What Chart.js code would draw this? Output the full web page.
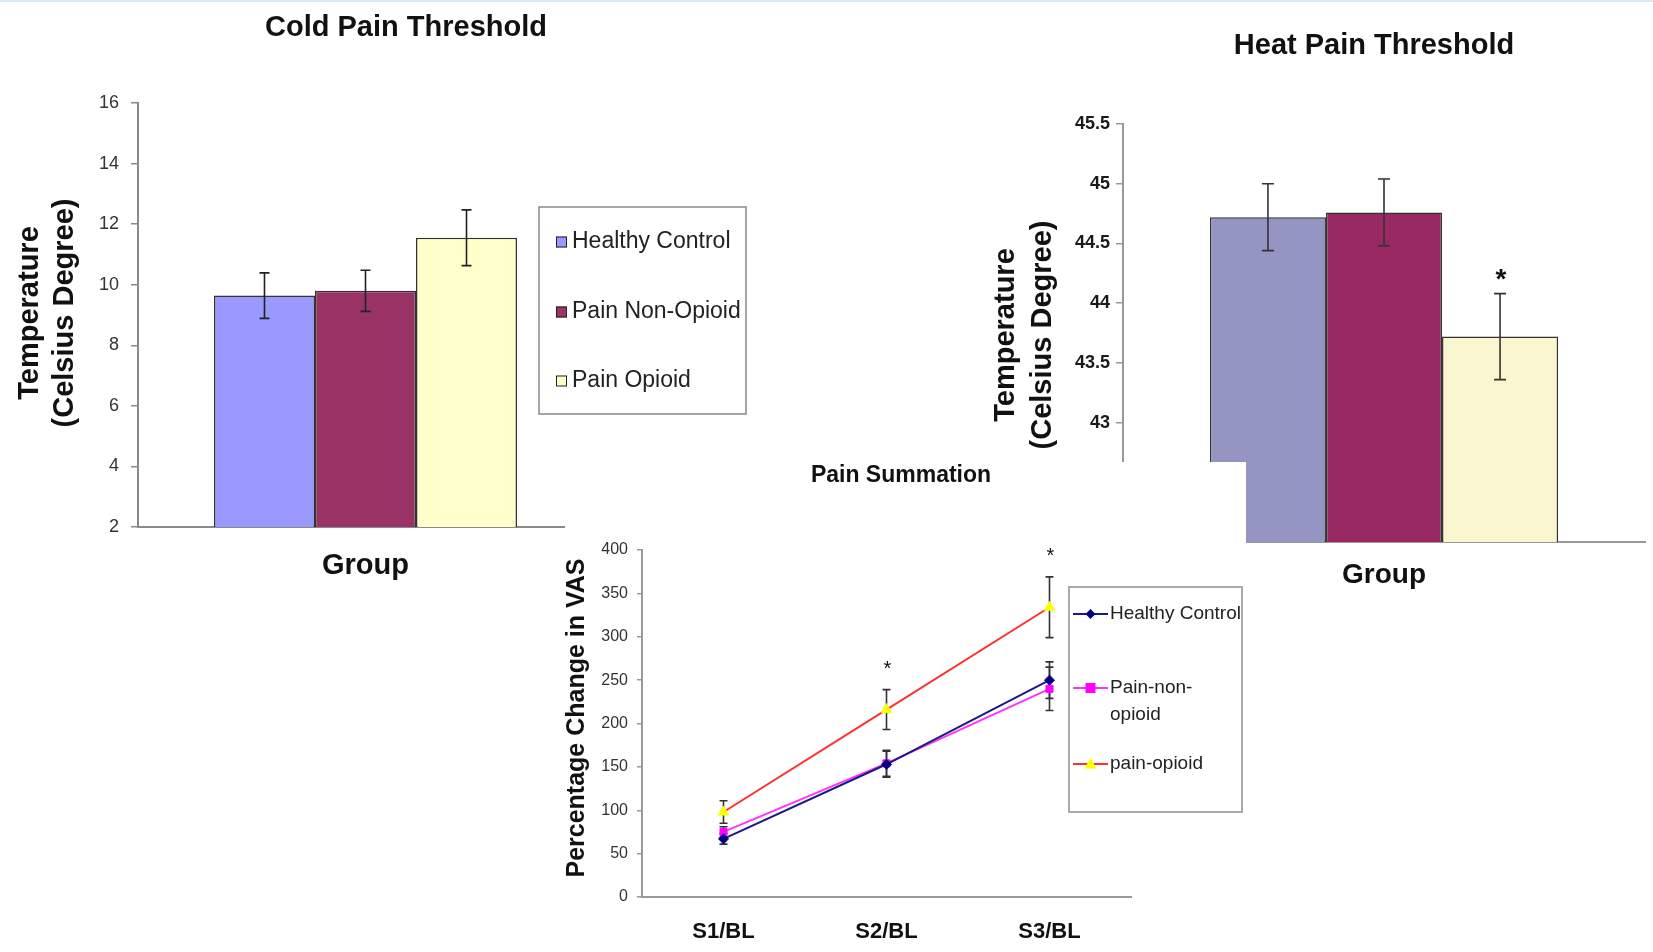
<!DOCTYPE html>
<html>
<head>
<meta charset="utf-8">
<title>Pain thresholds and pain summation</title>
<script src="https://cdn.jsdelivr.net/npm/chart.js@4.4.1/dist/chart.umd.min.js"></script>
<style>
  html, body { margin: 0; padding: 0; background: #fff; }
  body { width: 1653px; height: 952px; position: relative; overflow: hidden; }
  canvas { display: block; }
  .layer { position: absolute; left: 0; top: 0; }
  #sumPanel { position: absolute; left: 565px; top: 462px; width: 681px; height: 490px; background: #fff; }
  #topRule { position: absolute; left: 0; top: 0; width: 1653px; height: 2px; background: #d6ecf8; }
</style>
</head>
<body>
<canvas id="cold" class="layer" width="1653" height="952"></canvas>
<canvas id="heat" class="layer" width="1653" height="952"></canvas>
<div id="sumPanel"><canvas id="sum" width="681" height="490"></canvas></div>
<div id="topRule"></div>
<script>
// ---- data ----
const groupLabels = ['Group'];
const groupNames = ['Healthy Control', 'Pain Non-Opioid', 'Pain Opioid'];

const coldMeans = [9.64, 9.8, 11.55];
const coldErrors = [0.75, 0.68, 0.92];
const coldTickValues = [2, 4, 6, 8, 10, 12, 14, 16];

const heatMeans = [44.72, 44.76, 43.72];
const heatErrors = [0.28, 0.28, 0.36];
const heatStars = ['', '', '*'];
const heatTickValues = [42, 42.5, 43, 43.5, 44, 44.5, 45, 45.5];

const sessions = ['S1/BL', 'S2/BL', 'S3/BL'];
const summationNames = [['Healthy Control'], ['Pain-non-', 'opioid'], ['pain-opioid']];
const healthyVas = [67, 153, 250];
const healthyVasErr = [6, 15, 21];
const nonOpioidVas = [75, 154, 240];
const nonOpioidVasErr = [6, 15, 25];
const opioidVas = [98, 216, 334];
const opioidVasErr = [13, 23, 35];
const opioidStars = ['', '*', '*'];
const vasTickValues = [0, 50, 100, 150, 200, 250, 300, 350, 400];

const coldTitle = 'Cold Pain Threshold';
const heatTitle = 'Heat Pain Threshold';
const sumTitle = 'Pain Summation';
const tempTitle = ['Temperature', '(Celsius Degree)'];
const vasTitle = 'Percentage Change in VAS';

// ---- fonts ----
const SANS = '"Liberation Sans", Arial, Helvetica, sans-serif';
const NARROW = '"Liberation Sans Narrow", "Liberation Sans", Arial, sans-serif';

// ---- plugins ----
// Error bars (and significance stars) computed from each dataset's errors array.
const errorBars = {
  id: 'errorBars',
  draw(chart, o) {
    const ctx = chart.ctx;
    const ys = chart.scales.y;
    chart.data.datasets.forEach((ds, di) => {
      const meta = chart.getDatasetMeta(di);
      meta.data.forEach((el, i) => {
        const v = ds.data[i], e = ds.errors[i];
        const top = ys.getPixelForValue(v + e);
        const bot = ys.getPixelForValue(v - e);
        const x = el.x;
        ctx.save();
        ctx.strokeStyle = o.color;
        ctx.lineWidth = o.width;
        ctx.beginPath();
        ctx.moveTo(x, top); ctx.lineTo(x, bot);
        ctx.moveTo(x - o.cap, top); ctx.lineTo(x + o.cap, top);
        ctx.moveTo(x - o.cap, bot); ctx.lineTo(x + o.cap, bot);
        ctx.stroke();
        if (ds.stars && ds.stars[i]) {
          ctx.fillStyle = '#111';
          ctx.font = o.starFont;
          ctx.textAlign = 'center';
          ctx.textBaseline = 'alphabetic';
          ctx.fillText(ds.stars[i], x + 1, top - o.starGap);
        }
        ctx.restore();
      });
    });
  },
  beforeDatasetsDraw(chart, args, o) { if (o.layer === 'below') this.draw(chart, o); },
  afterDatasetsDraw(chart, args, o) { if (o.layer !== 'below') this.draw(chart, o); }
};

// Free text: titles and axis titles.
const texts = {
  id: 'texts',
  afterDraw(chart, args, o) {
    const ctx = chart.ctx;
    (o.items || []).forEach(t => {
      ctx.save();
      ctx.font = t.font;
      ctx.fillStyle = t.color || '#111';
      ctx.textAlign = 'center';
      ctx.textBaseline = t.baseline || 'middle';
      ctx.translate(t.x, t.y);
      if (t.rotate) ctx.rotate(-Math.PI / 2);
      ctx.fillText(t.text, 0, 0);
      ctx.restore();
    });
  }
};

function drawMarker(ctx, style, x, y, r) {
  ctx.beginPath();
  if (style === 'rect') {
    ctx.rect(x - r, y - r, 2 * r, 2 * r);
  } else if (style === 'rectRot') {
    ctx.moveTo(x, y - r); ctx.lineTo(x + r, y); ctx.lineTo(x, y + r); ctx.lineTo(x - r, y); ctx.closePath();
  } else if (style === 'triangle') {
    ctx.moveTo(x, y - r); ctx.lineTo(x + r, y + r * 0.75); ctx.lineTo(x - r, y + r * 0.75); ctx.closePath();
  }
  ctx.fill();
}

// Boxed legend built from the datasets.
const boxLegend = {
  id: 'boxLegend',
  afterDraw(chart, args, o) {
    if (!o.box) return;
    const ctx = chart.ctx;
    const [bx, by, bw, bh] = o.box;
    ctx.save();
    ctx.fillStyle = '#fff';
    ctx.fillRect(bx, by, bw, bh);
    ctx.strokeStyle = o.borderColor;
    ctx.lineWidth = o.borderWidth;
    ctx.strokeRect(bx, by, bw, bh);
    ctx.font = o.font;
    ctx.textAlign = 'left';
    ctx.textBaseline = 'middle';
    chart.data.datasets.forEach((ds, i) => {
      const y = o.rows[i];
      if (o.marker === 'square') {
        const s = o.size;
        ctx.fillStyle = ds.backgroundColor;
        ctx.fillRect(o.markerX, y - s / 2, s, s);
        ctx.strokeStyle = '#222';
        ctx.lineWidth = 1;
        ctx.strokeRect(o.markerX + 0.5, y - s / 2 + 0.5, s - 1, s - 1);
      } else {
        ctx.strokeStyle = ds.borderColor;
        ctx.lineWidth = 2;
        ctx.beginPath();
        ctx.moveTo(o.lineX0, y); ctx.lineTo(o.lineX1, y);
        ctx.stroke();
        ctx.fillStyle = ds.pointBackgroundColor;
        drawMarker(ctx, ds.pointStyle, (o.lineX0 + o.lineX1) / 2, y, ds.pointRadius);
      }
      ctx.fillStyle = o.textColor;
      const lines = ds.legendLines || [ds.label];
      lines.forEach((ln, k) => ctx.fillText(ln, o.textX, y + k * o.lineGap));
    });
    ctx.restore();
  }
};

Chart.register(errorBars, texts, boxLegend);
Chart.defaults.font.family = SANS;

function fixedWidth(w) { return s => { s.width = w; }; }
function fixedHeight(h) { return s => { s.height = h; }; }
function tickSetter(values) { return s => { s.ticks = values.map(v => ({ value: v })); }; }
const plainNumber = v => String(v);

// ---- Cold pain threshold ----
const coldColors = ['#9999FF', '#993366', '#FFFFCC'];
new Chart(document.getElementById('cold'), {
  type: 'bar',
  data: {
    labels: groupLabels,
    datasets: groupNames.map((name, i) => ({
      label: name,
      data: [coldMeans[i]],
      errors: [coldErrors[i]],
      backgroundColor: coldColors[i],
      borderColor: '#333',
      borderWidth: 1.5,
      categoryPercentage: 0.666,
      barPercentage: 1.0
    }))
  },
  options: {
    responsive: false,
    animation: false,
    devicePixelRatio: 1,
    layout: { padding: { left: 58, right: 1060, top: 103, bottom: 345 } },
    scales: {
      x: {
        afterFit: fixedHeight(80),
        grid: { display: false, drawTicks: false },
        border: { display: true, color: '#8a8a8a', width: 2 },
        ticks: { padding: 22, color: '#111', font: { size: 29, weight: 'bold' } }
      },
      y: {
        min: 2, max: 16,
        afterFit: fixedWidth(80),
        afterBuildTicks: tickSetter(coldTickValues),
        grid: { drawOnChartArea: false, tickLength: 7, color: '#8a8a8a', lineWidth: 1.5 },
        border: { display: true, color: '#8a8a8a', width: 2 },
        ticks: { padding: 12, color: '#333', font: { size: 18 }, callback: plainNumber }
      }
    },
    plugins: {
      legend: { display: false },
      tooltip: { enabled: false },
      errorBars: { color: '#222', width: 1.6, cap: 5 },
      boxLegend: {
        box: [539, 207, 207, 207], borderColor: '#8a8a8a', borderWidth: 1.5,
        marker: 'square', size: 11, markerX: 556, textX: 572, rows: [242, 312, 381],
        font: '23px ' + SANS, textColor: '#222', lineGap: 0
      },
      texts: {
        items: [
          { text: coldTitle, x: 406, y: 28, font: 'bold 29px ' + SANS },
          { text: tempTitle[0], x: 38, y: 313, rotate: true, baseline: 'alphabetic', font: 'bold 29px ' + SANS },
          { text: tempTitle[1], x: 73, y: 313, rotate: true, baseline: 'alphabetic', font: 'bold 29px ' + SANS }
        ]
      }
    }
  }
});

// ---- Heat pain threshold ----
const heatColors = ['#9595C3', '#992962', '#FAF6D0'];
new Chart(document.getElementById('heat'), {
  type: 'bar',
  data: {
    labels: groupLabels,
    datasets: groupNames.map((name, i) => ({
      label: name,
      data: [heatMeans[i]],
      errors: [heatErrors[i]],
      stars: [heatStars[i]],
      backgroundColor: heatColors[i],
      borderColor: '#333',
      borderWidth: 1.5,
      categoryPercentage: 0.667,
      barPercentage: 1.0
    }))
  },
  options: {
    responsive: false,
    animation: false,
    devicePixelRatio: 1,
    layout: { padding: { left: 1043, right: 8, top: 124, bottom: 330 } },
    scales: {
      x: {
        afterFit: fixedHeight(80),
        grid: { display: false, drawTicks: false },
        border: { display: true, color: '#999', width: 2 },
        ticks: { padding: 16, color: '#111', font: { size: 28, weight: 'bold' } }
      },
      y: {
        min: 42, max: 45.5,
        afterFit: fixedWidth(80),
        afterBuildTicks: tickSetter(heatTickValues),
        grid: { drawOnChartArea: false, tickLength: 7, color: '#999', lineWidth: 1.5 },
        border: { display: true, color: '#999', width: 2 },
        ticks: { padding: 6, color: '#1a1a1a', font: { size: 18, weight: 'bold' }, callback: plainNumber }
      }
    },
    plugins: {
      legend: { display: false },
      tooltip: { enabled: false },
      errorBars: { color: '#333', width: 1.6, cap: 6, starFont: 'bold 28px ' + SANS, starGap: 6 },
      texts: {
        items: [
          { text: heatTitle, x: 1374, y: 46, font: 'bold 29px ' + SANS },
          { text: tempTitle[0], x: 1014, y: 335, rotate: true, baseline: 'alphabetic', font: 'bold 29px ' + SANS },
          { text: tempTitle[1], x: 1051, y: 335, rotate: true, baseline: 'alphabetic', font: 'bold 29px ' + SANS }
        ]
      }
    }
  }
});

// ---- Pain summation ----
const sumSeries = [
  { values: healthyVas, errors: healthyVasErr, line: '#1a1a80', point: '#000080', style: 'rectRot', r: 5, stars: ['', '', ''] },
  { values: nonOpioidVas, errors: nonOpioidVasErr, line: '#FF33FF', point: '#FF00FF', style: 'rect', r: 5, stars: ['', '', ''] },
  { values: opioidVas, errors: opioidVasErr, line: '#FF3030', point: '#FFFF00', style: 'triangle', r: 6, stars: opioidStars }
];
new Chart(document.getElementById('sum'), {
  type: 'line',
  data: {
    labels: sessions,
    datasets: sumSeries.map((s, i) => ({
      label: summationNames[i].join(''),
      legendLines: summationNames[i],
      data: s.values,
      errors: s.errors,
      stars: s.stars,
      borderColor: s.line,
      borderWidth: 2,
      tension: 0,
      pointStyle: s.style,
      pointRadius: s.r,
      pointBackgroundColor: s.point,
      pointBorderColor: s.point,
      pointBorderWidth: 1
    }))
  },
  options: {
    responsive: false,
    animation: false,
    devicePixelRatio: 1,
    layout: { padding: { left: 27, right: 115, top: 88, bottom: 5 } },
    scales: {
      x: {
        offset: true,
        afterFit: fixedHeight(50),
        grid: { display: false, drawTicks: false },
        border: { display: true, color: '#999', width: 2 },
        ticks: { padding: 22, color: '#111', font: { size: 22, weight: 'bold' } }
      },
      y: {
        min: 0, max: 400,
        afterFit: fixedWidth(50),
        afterBuildTicks: tickSetter(vasTickValues),
        grid: { drawOnChartArea: false, tickLength: 5, color: '#999', lineWidth: 1.5 },
        border: { display: true, color: '#999', width: 2 },
        ticks: { padding: 9, color: '#333', font: { size: 16, family: NARROW }, callback: plainNumber }
      }
    },
    plugins: {
      legend: { display: false },
      tooltip: { enabled: false },
      errorBars: { layer: 'below', color: '#333', width: 1.6, cap: 4, starFont: '20px ' + SANS, starGap: 15 },
      boxLegend: {
        box: [504, 125, 173, 225], borderColor: '#aaa', borderWidth: 2,
        marker: 'line', lineX0: 508, lineX1: 543, textX: 545, rows: [152, 226, 302],
        font: '19px ' + NARROW, textColor: '#222', lineGap: 27
      },
      texts: {
        items: [
          { text: sumTitle, x: 336, y: 14, font: 'bold 23px ' + SANS },
          { text: vasTitle, x: 19, y: 256, rotate: true, baseline: 'alphabetic', font: 'bold 25px ' + SANS }
        ]
      }
    }
  }
});
</script>
</body>
</html>
